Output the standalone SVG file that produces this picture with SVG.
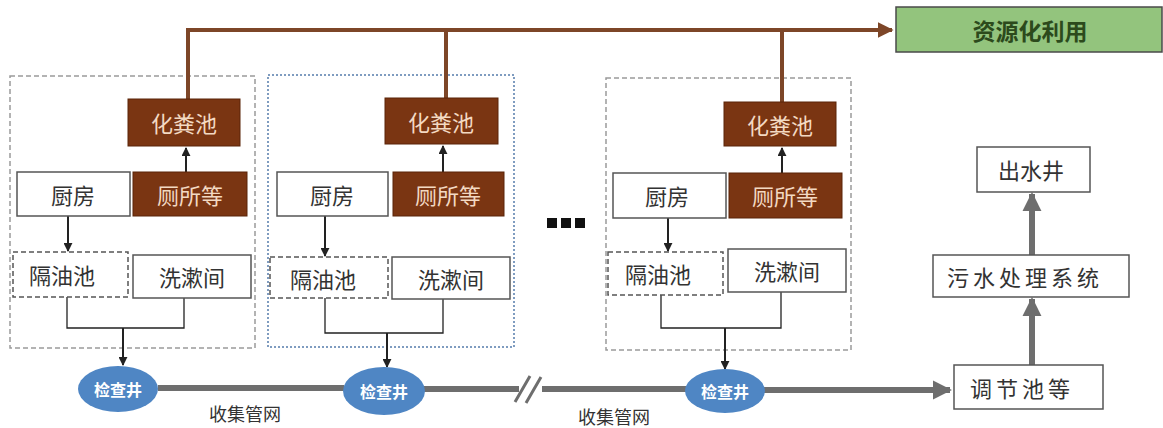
<svg xmlns="http://www.w3.org/2000/svg" width="1163" height="428" viewBox="0 0 1163 428">
<style>
  .cjk{font-family:"Noto Sans CJK SC","Noto Sans",sans-serif;}
  .panel{fill:none;stroke:#9a9a9a;stroke-width:1.5;stroke-dasharray:5,3;}
  .panel2{fill:none;stroke:#7f9cc0;stroke-width:2;stroke-dasharray:2,2;}
  .wbox{fill:#fff;stroke:#555;stroke-width:1.5;}
  .dbox{fill:#fff;stroke:#555;stroke-width:1.5;stroke-dasharray:5,3;}
  .bbox{fill:#7a3512;stroke:#5a2508;stroke-width:1;}
  .wt{font-size:22px;fill:#333;text-anchor:middle;dominant-baseline:central;}
  .bt{font-size:22px;fill:#f3d9c2;text-anchor:middle;dominant-baseline:central;}
  .ell{fill:#4f86c4;}
  .et{font-size:16px;font-weight:bold;fill:#fff;text-anchor:middle;dominant-baseline:central;}
  .blk{fill:none;stroke:#222;stroke-width:2;}
  .brk{fill:none;stroke:#222;stroke-width:1.3;}
  .brn{fill:none;stroke:#7d4628;stroke-width:4;}
  .pipe{fill:none;stroke:#6e6e6e;stroke-width:6;}
  .lab{font-size:18px;fill:#333;text-anchor:middle;dominant-baseline:central;}
</style>
<defs>
  <marker id="ab" viewBox="0 0 10 10" refX="9" refY="5" markerWidth="4.5" markerHeight="4.5" orient="auto" markerUnits="strokeWidth">
    <path d="M0,0 L10,5 L0,10 z" fill="#222"/>
  </marker>
  <marker id="ag" viewBox="0 0 10 10" refX="9" refY="5" markerWidth="3.2" markerHeight="3.2" orient="auto" markerUnits="strokeWidth">
    <path d="M0,0 L10,5 L0,10 z" fill="#6e6e6e"/>
  </marker>
  <marker id="abr" viewBox="0 0 10 10" refX="9" refY="5" markerWidth="4" markerHeight="4" orient="auto" markerUnits="strokeWidth">
    <path d="M0,0 L10,5 L0,10 z" fill="#7d4628"/>
  </marker>
</defs>
<rect width="1163" height="428" fill="#fff"/>

<g id="panels">
  <rect class="panel" x="10" y="76" width="245" height="272"/>
  <rect class="panel2" x="268" y="75" width="246" height="272"/>
  <rect class="panel" x="606" y="78" width="245" height="272"/>
</g>

<g id="connectors">
  <path class="brn" d="M188,99 V30 H892" marker-end="url(#abr)"/>
  <path class="brn" d="M446,98 V30"/>
  <path class="brn" d="M782,102 V30"/>
  <path class="blk" d="M186,172 V148" marker-end="url(#ab)"/>
  <path class="blk" d="M443,172 V146" marker-end="url(#ab)"/>
  <path class="blk" d="M782,173 V148" marker-end="url(#ab)"/>
  <path class="blk" d="M68,216 V251" marker-end="url(#ab)"/>
  <path class="blk" d="M325,216 V256" marker-end="url(#ab)"/>
  <path class="blk" d="M668,218 V251" marker-end="url(#ab)"/>
  <path class="brk" d="M67,297 V328 H184 V298"/>
  <path class="brk" d="M325,298 V333 H443 V299"/>
  <path class="brk" d="M661,295 V328 H781 V292"/>
  <path class="blk" d="M123,328 V365" marker-end="url(#ab)"/>
  <path class="blk" d="M387,333 V367" marker-end="url(#ab)"/>
  <path class="blk" d="M725,328 V369" marker-end="url(#ab)"/>
  <path class="pipe" d="M158,388 H344"/>
  <path class="pipe" d="M424,389 H519"/>
  <path class="pipe" d="M542,389 H686"/>
  <path class="pipe" d="M764,390 H950" marker-end="url(#ag)"/>
  <path fill="none" stroke="#6e6e6e" stroke-width="3" d="M515,402 L530,376 M526,403 L541,377"/>
  <path class="pipe" d="M1032,365 V299" marker-end="url(#ag)"/>
  <path class="pipe" d="M1032,255 V194" marker-end="url(#ag)"/>
</g>

<g id="n-resource">
  <rect x="896" y="7" width="266" height="45" fill="#93c47d" stroke="#4a4a4a" stroke-width="1.5"/>
  <text class="cjk" x="1030" y="30" font-size="23" font-weight="bold" fill="#2c4a1c" text-anchor="middle" dominant-baseline="central">资源化利用</text>
</g>

<g id="n-septic1"><rect class="bbox" x="128" y="99" width="112" height="47"/><text class="cjk bt" x="184" y="122">化粪池</text></g>
<g id="n-toilet1"><rect class="bbox" x="133" y="172" width="114" height="44"/><text class="cjk bt" x="190" y="194">厕所等</text></g>
<g id="n-kitchen1"><rect class="wbox" x="17" y="172" width="113" height="44"/><text class="cjk wt" x="73" y="194">厨房</text></g>
<g id="n-grease1"><rect class="dbox" x="13" y="252" width="115" height="45"/><text class="cjk wt" x="62" y="274">隔油池</text></g>
<g id="n-wash1"><rect class="wbox" x="133" y="255" width="118" height="43"/><text class="cjk wt" x="192" y="276">洗漱间</text></g>

<g id="n-septic2"><rect class="bbox" x="385" y="98" width="113" height="46"/><text class="cjk bt" x="441" y="121">化粪池</text></g>
<g id="n-toilet2"><rect class="bbox" x="393" y="172" width="111" height="44"/><text class="cjk bt" x="448" y="194">厕所等</text></g>
<g id="n-kitchen2"><rect class="wbox" x="277" y="172" width="111" height="44"/><text class="cjk wt" x="332" y="194">厨房</text></g>
<g id="n-grease2"><rect class="dbox" x="270" y="257" width="118" height="41"/><text class="cjk wt" x="323" y="278">隔油池</text></g>
<g id="n-wash2"><rect class="wbox" x="392" y="257" width="118" height="42"/><text class="cjk wt" x="451" y="278">洗漱间</text></g>

<g id="n-septic3"><rect class="bbox" x="724" y="102" width="112" height="44"/><text class="cjk bt" x="780" y="124">化粪池</text></g>
<g id="n-toilet3"><rect class="bbox" x="729" y="173" width="113" height="45"/><text class="cjk bt" x="785" y="195">厕所等</text></g>
<g id="n-kitchen3"><rect class="wbox" x="613" y="173" width="113" height="45"/><text class="cjk wt" x="667" y="195">厨房</text></g>
<g id="n-grease3"><rect class="dbox" x="608" y="252" width="115" height="43"/><text class="cjk wt" x="658" y="273">隔油池</text></g>
<g id="n-wash3"><rect class="wbox" x="728" y="249" width="118" height="43"/><text class="cjk wt" x="787" y="270">洗漱间</text></g>

<g id="n-ellipsis">
  <rect x="547" y="218" width="10" height="10" fill="#111"/>
  <rect x="561" y="218" width="10" height="10" fill="#111"/>
  <rect x="575" y="218" width="10" height="10" fill="#111"/>
</g>

<g id="n-well1"><ellipse class="ell" cx="118" cy="389" rx="40" ry="23"/><text class="cjk et" x="118" y="389">检查井</text></g>
<g id="n-well2"><ellipse class="ell" cx="384" cy="391" rx="41" ry="24"/><text class="cjk et" x="384" y="391">检查井</text></g>
<g id="n-well3"><ellipse class="ell" cx="725" cy="391" rx="40" ry="22"/><text class="cjk et" x="725" y="391">检查井</text></g>

<g id="labels">
  <text class="cjk lab" x="245" y="413">收集管网</text>
  <text class="cjk lab" x="614" y="416">收集管网</text>
</g>

<g id="n-outlet"><rect class="wbox" x="977" y="147" width="113" height="45"/><text class="cjk wt" x="1031" y="169">出水井</text></g>
<g id="n-treat"><rect class="wbox" x="933" y="255" width="196" height="42"/><text class="cjk wt" x="1025" y="276" letter-spacing="4">污水处理系统</text></g>
<g id="n-adjust"><rect class="wbox" x="954" y="365" width="149" height="44"/><text class="cjk wt" x="1022" y="387" letter-spacing="4">调节池等</text></g>
</svg>
